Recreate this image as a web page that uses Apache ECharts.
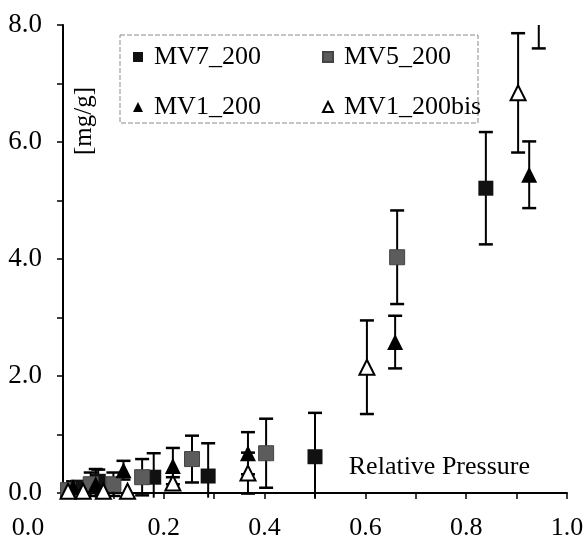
<!DOCTYPE html>
<html><head><meta charset="utf-8">
<script src="https://cdn.jsdelivr.net/npm/echarts@6/dist/echarts.min.js"></script>
<style>html,body{margin:0;padding:0;background:#fff}#c{width:583px;height:546px}</style>
</head><body><div id="c"></div>
<script>
// ---- data ----
const seriesNames = ['MV7_200', 'MV5_200', 'MV1_200', 'MV1_200bis'];

const mv7X   = [0.03, 0.07, 0.18, 0.288, 0.50, 0.839];
const mv7Y   = [0.10, 0.20, 0.27, 0.29, 0.62, 5.21];
const mv7Err = [0.10, 0.20, 0.41, 0.56, 0.75, 0.96];

const mv5X   = [0.01, 0.055, 0.10, 0.157, 0.256, 0.403, 0.663, 0.944];
const mv5Y   = [0.05, 0.15, 0.15, 0.27, 0.58, 0.68, 4.03, 8.60];
const mv5Err = [0.08, 0.20, 0.20, 0.31, 0.40, 0.59, 0.80, 1.00];

const mv1X   = [0.02, 0.065, 0.12, 0.218, 0.367, 0.659, 0.925];
const mv1Y   = [0.10, 0.15, 0.39, 0.46, 0.68, 2.58, 5.44];
const mv1Err = [0.10, 0.26, 0.16, 0.31, 0.36, 0.45, 0.57];

const mv1bX   = [0.01, 0.04, 0.08, 0.128, 0.218, 0.367, 0.603, 0.903];
const mv1bY   = [0.03, 0.03, 0.03, 0.03, 0.17, 0.34, 2.15, 6.84];
const mv1bErr = [0, 0, 0, 0, 0.10, 0.35, 0.80, 1.02];

const xTickLabels = ['0.0', '0.2', '0.4', '0.6', '0.8', '1.0'];
const yTickLabels = ['0.0', '2.0', '4.0', '6.0', '8.0'];
const xAxisTitle = 'Relative Pressure';
const yAxisTitle = '[mg/g]';

// ---- chart ----
const FONT = '"Liberation Serif", "Times New Roman", serif';
const Y_MIN = 0, Y_MAX = 8, Y_LOW_CLIP = -0.08;

function pts(xs, ys) { return xs.map((x, i) => [x, ys[i]]); }

function errSeries(id, xs, ys, es) {
  return {
    type: 'custom', name: id, silent: true, z: 2,
    data: xs.map((x, i) => [x, ys[i], es[i]]),
    encode: { x: 0, y: 1 },
    renderItem(params, api) {
      const x = api.value(0), y = api.value(1), e = api.value(2);
      if (!e) return null;
      const hiV = Math.min(y + e, Y_MAX), loV = Math.max(y - e, Y_LOW_CLIP);
      if (hiV <= loV) return null;
      const top = api.coord([x, hiV]), bot = api.coord([x, loV]);
      const ch = [{ type: 'line', shape: { x1: top[0], y1: top[1], x2: bot[0], y2: bot[1] }, style: { stroke: '#000', lineWidth: 2 } }];
      const hw = 7;
      if (y + e <= Y_MAX) ch.push({ type: 'line', shape: { x1: top[0] - hw, y1: top[1], x2: top[0] + hw, y2: top[1] }, style: { stroke: '#000', lineWidth: 2.5 } });
      if (y - e >= Y_LOW_CLIP) ch.push({ type: 'line', shape: { x1: bot[0] - hw, y1: bot[1], x2: bot[0] + hw, y2: bot[1] }, style: { stroke: '#000', lineWidth: 2.5 } });
      return { type: 'group', children: ch };
    }
  };
}

const chart = echarts.init(document.getElementById('c'), null, { renderer: 'canvas' });

chart.setOption({
  backgroundColor: '#fff',
  animation: false,
  grid: { left: 63, right: 16, top: 25, bottom: 53, containLabel: false, outerBoundsMode: 'none' },
  xAxis: {
    type: 'value', min: 0, max: 1, interval: 0.1,
    name: xAxisTitle, nameLocation: 'end', nameGap: -37,
    nameTextStyle: { fontFamily: FONT, fontSize: 26, color: '#000', align: 'right', verticalAlign: 'bottom', padding: [0, 0, 13, 0] },
    axisLine: { lineStyle: { color: '#000', width: 2 } },
    axisTick: { show: true, length: 6, lineStyle: { color: '#000', width: 1.5 } },
    splitLine: { show: false },
    axisLabel: {
      margin: 22, color: '#000', fontFamily: FONT, fontSize: 26,
      formatter: (v) => {
        const r = Math.round(v * 10);
        if (r % 2) return '';
        const lab = xTickLabels[r / 2];
        return r === 0 ? '{o|' + lab + '}' : lab;
      },
      rich: { o: { fontFamily: FONT, fontSize: 26, color: '#000', padding: [0, 70, 0, 0] } }
    }
  },
  yAxis: {
    type: 'value', min: Y_MIN, max: Y_MAX, interval: 1,
    axisLine: { show: true, lineStyle: { color: '#000', width: 2 } },
    axisTick: { show: true, length: 6, lineStyle: { color: '#000', width: 1.5 } },
    splitLine: { show: false },
    axisLabel: {
      margin: 21, color: '#000', fontFamily: FONT, fontSize: 27, padding: [0, 0, 8, 0],
      formatter: (v) => (Math.round(v) % 2 ? '' : yTickLabels[Math.round(v) / 2])
    }
  },
  legend: {
    left: 133, top: 32, width: 380, padding: 0, itemGap: 0,
    itemWidth: 10, itemHeight: 10, selectedMode: false,
    data: [
      { name: seriesNames[0], icon: 'rect' },
      { name: seriesNames[1], icon: 'rect' },
      { name: seriesNames[2], icon: 'triangle' },
      { name: seriesNames[3], icon: 'triangle' }
    ],
    textStyle: { fontFamily: FONT, fontSize: 26, color: '#000', width: 168, lineHeight: 50, padding: [0, 0, 0, 6] }
  },
  graphic: [
    { type: 'rect', silent: true, z: 0, shape: { x: 120, y: 35, width: 358, height: 88 },
      style: { fill: 'none', stroke: '#8a8a8a', lineWidth: 1, lineDash: [5, 2] } },
    { type: 'text', silent: true, x: 84, y: 121, rotation: Math.PI / 2,
      style: { text: yAxisTitle, fontFamily: FONT, fontSize: 25, fill: '#000',
               align: 'center', verticalAlign: 'middle', textAlign: 'center', textVerticalAlign: 'middle' } }
  ],
  series: [
    errSeries('err7', mv7X, mv7Y, mv7Err),
    errSeries('err5', mv5X, mv5Y, mv5Err),
    errSeries('err1', mv1X, mv1Y, mv1Err),
    errSeries('err1b', mv1bX, mv1bY, mv1bErr),
    { type: 'scatter', name: seriesNames[0], data: pts(mv7X, mv7Y), symbol: 'rect', symbolSize: 15, z: 3,
      itemStyle: { color: '#111', opacity: 1 } },
    { type: 'scatter', name: seriesNames[1], data: pts(mv5X, mv5Y), symbol: 'rect', symbolSize: 15, z: 3,
      itemStyle: { color: '#5c5c5c', borderColor: '#444', borderWidth: 1, opacity: 1 } },
    { type: 'scatter', name: seriesNames[2], data: pts(mv1X, mv1Y), symbol: 'triangle', symbolSize: 16, z: 4,
      itemStyle: { color: '#000', opacity: 1 } },
    { type: 'scatter', name: seriesNames[3], data: pts(mv1bX, mv1bY), symbol: 'triangle', symbolSize: 15, z: 5,
      itemStyle: { color: '#fff', borderColor: '#000', borderWidth: 2, opacity: 1 } }
  ]
});
</script>
</body></html>
